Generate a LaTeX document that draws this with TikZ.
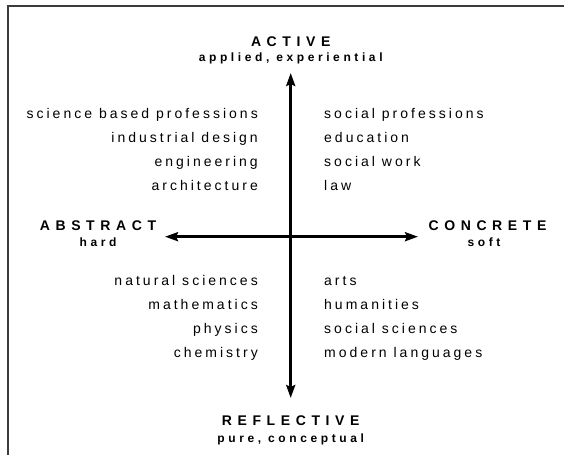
\documentclass[tikz,border=0pt]{standalone}
\usepackage{fontspec}
\setmainfont{Liberation Sans}
\newfontfamily\polefont[LetterSpace=40]{Liberation Sans}
\newfontfamily\subfont[LetterSpace=30]{Liberation Sans}
\newfontfamily\fieldfont[LetterSpace=21.5]{Liberation Sans}
\usetikzlibrary{arrows.meta, positioning}
\definecolor{frameline}{RGB}{60,60,60}
\tikzset{
  pole/.style={inner sep=0pt, anchor=base, font=\polefont\bfseries\fontsize{14}{16}\selectfont},
  polesub/.style={inner sep=0pt, anchor=base, font=\subfont\bfseries\fontsize{12}{14}\selectfont},
  field/.style={inner sep=0pt, font=\fieldfont\fontsize{14}{16}\selectfont},
  axis/.style={{Stealth[length=13pt, width=9pt, inset=2pt]}-{Stealth[length=13pt, width=9pt, inset=2pt]}, line width=3pt},
}

\begin{document}
\begin{tikzpicture}[x=1pt, y=1pt]
        \useasboundingbox (0,0) rectangle (569,466);
        % frame
        \draw[frameline, line width=1.6pt] (7.7,11) -- (7.7,459.8) -- (564,459.8);

        % axes
        \coordinate (north) at (290.7,393);
        \coordinate (south) at (290.7,68);
        \coordinate (west) at (165,229.3);
        \coordinate (east) at (418,229.3);
        \draw[axis] (south) -- (north);
        \draw[axis] (west) -- (east);

        % poles
        \node[pole] (active) at (290.7,419.3) {ACTIVE};
        \node[polesub] (activesub) at (290.7,404.3) {applied, experiential};
        \node[pole] (reflective) at (290.7,41) {REFLECTIVE};
        \node[polesub] (reflectivesub) at (290.7,23.2) {pure, conceptual};
        \node[pole] (abstract) at (98,235.3) {ABSTRACT};
        \node[polesub] (abstractsub) at (98,219.3) {hard};
        \node[pole] (concrete) at (487.5,235.3) {CONCRETE};
        \node[polesub] (concretesub) at (484,219.3) {soft};

        % active side
        \foreach \i/\lbl in {0/science based professions, 1/industrial design, 2/engineering, 3/architecture}{
          \node[field, anchor=base east] (aa\i) at (258,347.5-24*\i) {\lbl};
        }
        \foreach \i/\lbl in {0/social professions, 1/education, 2/social work, 3/law}{
          \node[field, anchor=base west] (ac\i) at (324,347.5-24*\i) {\lbl};
        }

        % reflective side
        \foreach \i/\lbl in {0/natural sciences, 1/mathematics, 2/physics, 3/chemistry}{
          \node[field, anchor=base east] (ra\i) at (258,181-24.3*\i) {\lbl};
        }
        \foreach \i/\lbl in {0/arts, 1/humanities, 2/social sciences, 3/modern languages}{
          \node[field, anchor=base west] (rc\i) at (324,181-24.3*\i) {\lbl};
        }
\end{tikzpicture}
\end{document}
